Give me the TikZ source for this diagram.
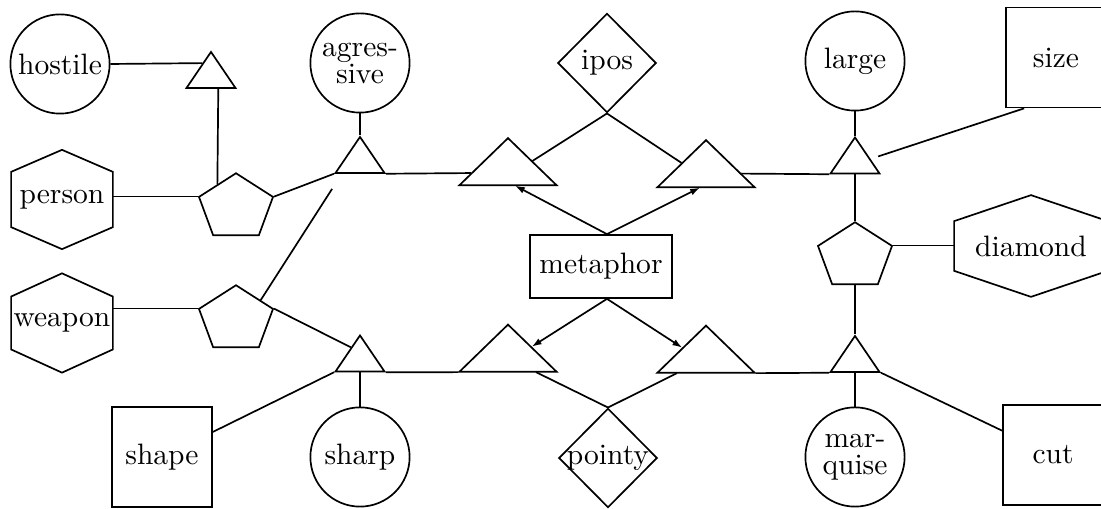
\documentclass[tikz,border=0pt]{standalone}
\usepackage{tikz}
\usetikzlibrary{arrows, arrows.meta, calc, positioning, shapes.geometric}
\tikzstyle{kreis} = [draw, circle, inner sep=0pt, minimum size=1.24cm, align=center]
\tikzstyle{kasten} = [draw, rectangle, inner sep=0pt, minimum size=1.25cm]
\tikzstyle{raute} = [draw, diamond, inner sep=0pt, minimum width=1.23cm, minimum height=1.24cm]
\tikzstyle{sechseck} = [rectangle, inner sep=0pt, minimum width=1.25cm, minimum height=1.22cm]
\tikzstyle{fuenfeck} = [draw, regular polygon, regular polygon sides=5, inner sep=0pt, minimum size=0.9725cm, yscale=0.88]
\tikzstyle{dreieck} = [draw, regular polygon, regular polygon sides=3, inner sep=0pt, minimum size=0.7075cm, yscale=0.85]
\tikzstyle{grossdreieck} = [draw, regular polygon, regular polygon sides=3, inner sep=0pt, minimum size=1.4cm, yscale=0.56]
\tikzstyle{pfeil} = [-{Latex[length=3.5pt,width=2.4pt]}]

\begin{document}
\begin{tikzpicture}[x=0.0125cm, y=-0.0125cm, semithick,
		every node/.style={font=\fontsize{10.5}{9.6}\selectfont}]
		\useasboundingbox (0,0) rectangle (1101,509);
		% nodes
		\node[kreis] (hostile) at (60,64) {hostile};					% Kreise
		\node[kreis] (agressive) at (360,63) {agres-\\sive};
		\node[kreis] (large) at (855,61) {large};
		\node[kreis] (sharp) at (360,457) {sharp};
		\node[kreis] (marquise) at (855,457) {mar-\\quise};
		\node[kasten] (size) at (1056,57.5) {size};						% Kaesten
		\node[kasten] (shape) at (162,457) {shape};
		\node[kasten] (cut) at (1053,455) {cut};
		\node[draw,rectangle,minimum width=1.725cm,minimum height=0.7875cm] (metaphor) at (601,266.5) {metaphor};
		\node[raute] (ipos) at (607,63) {ipos};							% Rauten
		\node[raute] (pointy) at (608,458) {\makebox[0pt]{pointy}};
		\node[sechseck] (person) at (62,199.5) {person};				% Sechsecke (Rahmen unten)
		\node[sechseck] (weapon) at (62,323) {weapon};
		\node[sechseck,minimum width=1.9cm,minimum height=1.25cm] (diamond) at (1031,246) {diamond};
		\node[fuenfeck] (p1) at (236,207.5) {};							% Fuenfecke
		\node[fuenfeck] (p2) at (236,319.5) {};
		\node[fuenfeck] (p3) at (855,256.5) {};
		\node[dreieck] (t1) at (211,76) {};								% kleine Dreiecke
		\node[dreieck] (t2) at (360,161) {};
		\node[dreieck] (t7) at (360,359.5) {};
		\node[dreieck] (t8) at (855,360) {};
		\node[dreieck] (t9) at (855,161.5) {};
		\node[grossdreieck] (t3) at (508,169.5) {};						% grosse Dreiecke
		\node[grossdreieck] (t4) at (706,171.5) {};
		\node[grossdreieck] (t5) at (508,356) {};
		\node[grossdreieck] (t6) at (706,357) {};
		
		% Sechseck-Rahmen
		\foreach \n/\d in {person/0.275cm, weapon/0.29cm, diamond/0.325cm}
			\draw (\n.north) -- ([yshift=-\d]\n.north east) -- ([yshift=\d]\n.south east) -- (\n.south) -- ([yshift=\d]\n.south west) -- ([yshift=-\d]\n.north west) -- cycle;
		
		% linke Seite
		\draw (hostile.east) -- ($(t1.corner 1)!.33!(t1.corner 2)$);
		\draw ($(t1.corner 2)!.64!(t1.corner 3)$) -- ($(p1.corner 1)!.49!(p1.corner 2)$);
		\draw (p1.corner 2) -- (p1.corner 2 -| person.east);
		\draw (p1.corner 5) -- (t2.corner 2);
		\draw[shorten >=0.225cm] ($(p2.corner 1)!.65!(p2.corner 5)$) -- ($(t2.corner 2)!.15!(t2.corner 3)$);
		\draw (agressive.south) -- (t2.corner 1);
		\draw (p2.corner 2) -- (p2.corner 2 -| weapon.east);
		\draw (p2.corner 5) -- ($(t7.corner 1)!.35!(t7.corner 2)$);
		\draw (t7.corner 2) -- (shape);
		\draw (t7.side 2) -- (sharp.north);
		
		% Mitte
		\draw (t2.corner 3) -- ($(t3.corner 1)!.74!(t3.corner 2)$);
		\draw (ipos.south) -- ($(t3.corner 1)!.49!(t3.corner 3)$);
		\draw (ipos.south) -- ($(t4.corner 1)!.49!(t4.corner 2)$);
		\draw[pfeil] ([xshift=0.075cm]metaphor.north) -- ($(t3.corner 2)!.57!(t3.corner 3)$);
		\draw[pfeil] ([xshift=0.075cm]metaphor.north) -- ($(t4.corner 2)!.44!(t4.corner 3)$);
		\draw[pfeil] ([xshift=0.075cm]metaphor.south) -- ($(t5.corner 1)!.475!(t5.corner 3)$);
		\draw[pfeil] ([xshift=0.075cm]metaphor.south) -- ($(t6.corner 1)!.475!(t6.corner 2)$);
		\draw (pointy.north) -- ($(t5.corner 2)!.78!(t5.corner 3)$);
		\draw (pointy.north) -- ($(t6.corner 2)!.21!(t6.corner 3)$);
		\draw (t7.corner 3) -- (t5.corner 2);
		\draw (t6.corner 3) -- (t8.corner 2);
		
		% rechte Seite
		\draw ($(t4.corner 1)!.71!(t4.corner 3)$) -- (t9.corner 2);
		\draw (large.south) -- (t9.corner 1);
		\draw[shorten >=0.1cm] ([xshift=0.2375cm]size.south west) -- ($(t9.corner 1)!.6!(t9.corner 3)$);
		\draw (t9.side 2) -- (p3.corner 1);
		\draw (p3.corner 5) -- (p3.corner 5 -| diamond.west);
		\draw (p3.side 3) -- (t8.corner 1);
		\draw (t8.side 2) -- (marquise.north);
		\draw (t8.corner 3) -- (cut);
\end{tikzpicture}
\end{document}
